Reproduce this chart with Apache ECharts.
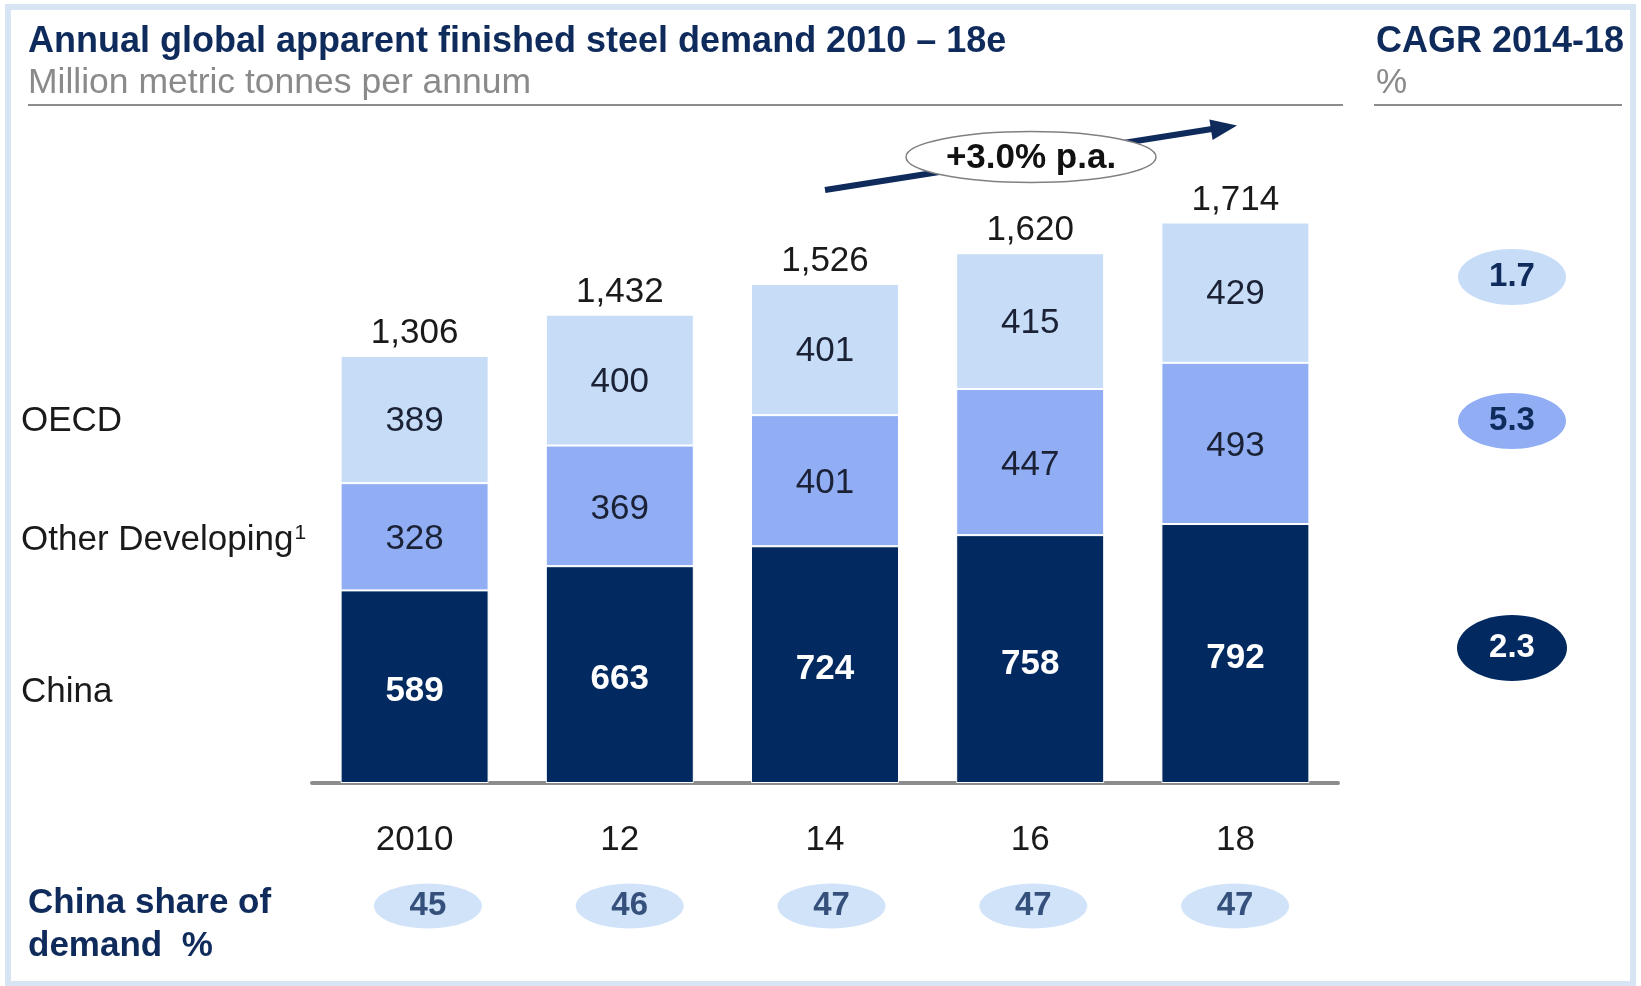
<!DOCTYPE html>
<html>
<head>
<meta charset="utf-8">
<script src="https://cdn.jsdelivr.net/npm/echarts@6/dist/echarts.min.js"></script>
<style>
html,body{margin:0;padding:0;background:#fff;}
#chart{width:1641px;height:986px;}
</style>
</head>
<body>
<div id="chart"></div>
<script>
// ---- data ----
const years = ['2010', '12', '14', '16', '18'];
const china = [589, 663, 724, 758, 792];
const otherDeveloping = [328, 369, 401, 447, 493];
const oecd = [389, 400, 401, 415, 429];
const totals = [1306, 1432, 1526, 1620, 1714];
const chinaShare = [45, 46, 47, 47, 47];
const cagrNames = ['OECD', 'Other Developing', 'China'];
const cagrValues = ['1.7', '5.3', '2.3'];
const growthText = '+3.0% p.a.';
const titleText = 'Annual global apparent finished steel demand 2010 \u2013 18e';
const subtitleText = 'Million metric tonnes per annum';
const cagrTitle = 'CAGR 2014-18';
const cagrUnit = '%';
const shareTitle = 'China share of\ndemand  %';

// ---- style ----
const FONT = "'Liberation Sans', Arial, Helvetica, sans-serif";
const NAVY = '#0f2b5c';
const C_CHINA = '#032a60';
const C_OTHER = '#91aef5';
const C_OECD = '#c6dcf7';
const TXT = '#1a1a1a';
const FS = 35;

const chart = echarts.init(document.getElementById('chart'), null, {renderer: 'canvas'});

function txt(x, y, text, opts, z) {
  return {
    type: 'text', x: x, y: y, z: z || 10,
    style: Object.assign({
      text: text, fontFamily: FONT, fontSize: FS, fill: TXT,
      textAlign: 'left', textVerticalAlign: 'middle', verticalAlign: 'middle'
    }, opts || {})
  };
}

// CAGR bubble layout (annotation column)
const cagrLayout = [
  {cy: 277, rx: 54, ry: 28, fill: C_OECD, color: NAVY},
  {cy: 421, rx: 54, ry: 28, fill: C_OTHER, color: NAVY},
  {cy: 648, rx: 55, ry: 33, fill: C_CHINA, color: '#ffffff'}
];

const graphics = [
  {type: 'rect', z: 0, shape: {x: 8, y: 7, width: 1625, height: 977},
   style: {fill: 'none', stroke: '#d6e4f3', lineWidth: 6}},
  txt(28, 42, titleText, {fontWeight: 'bold', fill: NAVY, fontSize: 36}),
  txt(28, 83, subtitleText, {fill: '#8a8a8a', fontSize: 35.5}),
  txt(1376, 42, cagrTitle, {fontWeight: 'bold', fill: NAVY, fontSize: 36}),
  txt(1376, 83, cagrUnit, {fill: '#8a8a8a', fontSize: 35}),
  {type: 'line', z: 10, shape: {x1: 28, y1: 105, x2: 1343, y2: 105}, style: {stroke: '#8c8c8c', lineWidth: 2}},
  {type: 'line', z: 10, shape: {x1: 1374, y1: 105, x2: 1622, y2: 105}, style: {stroke: '#8c8c8c', lineWidth: 2}},
  txt(21, 421, cagrNames[0]),
  {type: 'text', x: 21, y: 540, z: 10, style: {
    text: '{a|' + cagrNames[1] + '}{s|1}', fontFamily: FONT, fill: TXT,
    textVerticalAlign: 'middle', verticalAlign: 'middle',
    rich: {a: {fontSize: FS, fontFamily: FONT, fill: TXT, color: TXT},
           s: {fontSize: 21, fontFamily: FONT, fill: TXT, color: TXT, verticalAlign: 'top', padding: [0, 0, 0, 1]}}
  }},
  txt(21, 692, cagrNames[2]),
  // growth arrow
  {type: 'line', z: 10, shape: {x1: 825, y1: 190, x2: 1212, y2: 129}, style: {stroke: NAVY, lineWidth: 6}},
  {type: 'polygon', z: 10, shape: {points: [[1237, 125.5], [1212.6, 140], [1209.4, 119.5]]}, style: {fill: NAVY}},
  {type: 'ellipse', z: 11, shape: {cx: 1031, cy: 157, rx: 125, ry: 25.5}, style: {fill: '#ffffff', stroke: '#808080', lineWidth: 1.5}},
  txt(1031, 158, growthText, {fontWeight: 'bold', textAlign: 'center', fill: '#111', fontSize: 35}, 12),
  {type: 'text', x: 28, y: 882, z: 10, style: {
    text: shareTitle, fontFamily: FONT, fontSize: FS, fontWeight: 'bold', fill: NAVY,
    lineHeight: 43, textVerticalAlign: 'top', verticalAlign: 'top'
  }}
];
cagrLayout.forEach(function (c, i) {
  graphics.push({type: 'ellipse', z: 10, shape: {cx: 1512, cy: c.cy, rx: c.rx, ry: c.ry}, style: {fill: c.fill}});
  graphics.push(txt(1512, c.cy, cagrValues[i], {fontWeight: 'bold', textAlign: 'center', fill: c.color, fontSize: 33}, 11));
});

const segBorder = {borderColor: '#ffffff', borderWidth: 1};

const option = {
  animation: false,
  backgroundColor: '#ffffff',
  textStyle: {fontFamily: FONT},
  grid: [
    {left: 312, right: 303, top: 129, bottom: 203},
    {left: 327, right: 305, top: 883, height: 46}
  ],
  xAxis: [
    {type: 'category', gridIndex: 0, data: years, offset: 2,
     axisLine: {lineStyle: {color: '#8c8c8c', width: 4}},
     axisTick: {show: false},
     axisLabel: {margin: 38, fontSize: FS, color: TXT, fontFamily: FONT}},
    {type: 'category', gridIndex: 1, data: years, show: false}
  ],
  yAxis: [
    {type: 'value', gridIndex: 0, min: 0, max: 2000, show: false},
    {type: 'value', gridIndex: 1, min: -1, max: 1, show: false}
  ],
  series: [
    {name: 'China', type: 'bar', stack: 'total', barWidth: 148, data: china,
     itemStyle: Object.assign({color: C_CHINA}, segBorder),
     label: {show: true, position: 'inside', offset: [0, 5], color: '#ffffff', fontWeight: 'bold', fontSize: FS, fontFamily: FONT}},
    {name: 'Other Developing', type: 'bar', stack: 'total', barWidth: 148, data: otherDeveloping,
     itemStyle: Object.assign({color: C_OTHER}, segBorder),
     label: {show: true, position: 'inside', offset: [0, 3], color: '#1b2236', fontSize: FS, fontFamily: FONT}},
    {name: 'OECD', type: 'bar', stack: 'total', barWidth: 148, data: oecd,
     itemStyle: Object.assign({color: C_OECD}, segBorder),
     label: {show: true, position: 'inside', offset: [0, 2], color: '#1b2236', fontSize: FS, fontFamily: FONT}},
    {name: 'Total', type: 'bar', barWidth: 148, barGap: '-100%', data: totals, z: 1, silent: true,
     itemStyle: {color: 'rgba(0,0,0,0)'},
     label: {show: true, position: 'top', distance: 5, color: TXT, fontSize: FS, fontFamily: FONT,
             formatter: function (p) { return p.value.toLocaleString('en-US'); }}},
    {name: 'China share', type: 'scatter', xAxisIndex: 1, yAxisIndex: 1,
     data: chinaShare.map(function (v, i) { return [i, 0, v]; }),
     symbol: 'circle', symbolSize: [108, 45],
     itemStyle: {color: C_OECD},
     label: {show: true, position: 'inside', color: NAVY, fontWeight: 'bold', fontSize: 33, fontFamily: FONT,
             formatter: function (p) { return String(p.value[2]); }}}
  ],
  graphic: graphics
};
chart.setOption(option);
</script>
</body>
</html>
